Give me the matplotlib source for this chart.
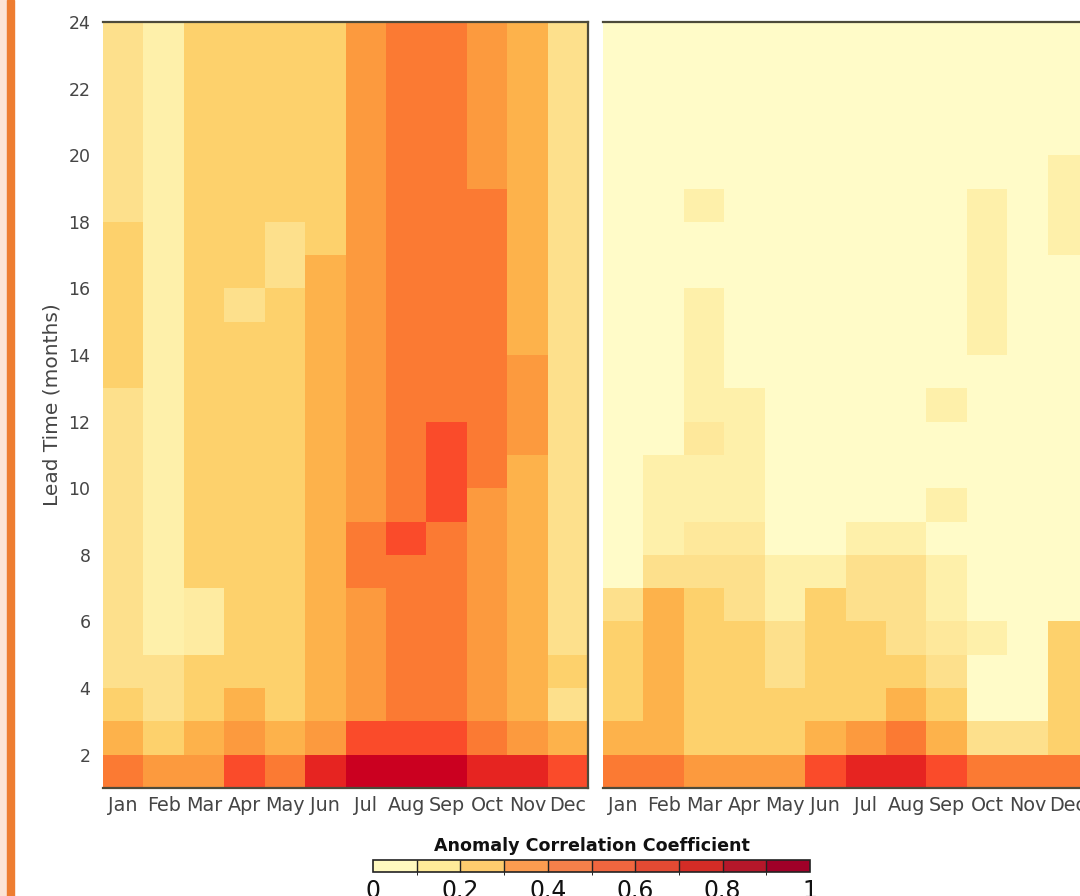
import numpy as np
import matplotlib
matplotlib.use("Agg")
import matplotlib.pyplot as plt
from matplotlib.colors import LinearSegmentedColormap, ListedColormap, BoundaryNorm
from matplotlib.patches import Rectangle
import matplotlib.cm as cm

months = ['Jan', 'Feb', 'Mar', 'Apr', 'May', 'Jun',
          'Jul', 'Aug', 'Sep', 'Oct', 'Nov', 'Dec']
leads = np.arange(1, 25)          # lead-time edges (months)

# ACC per lead (rows, lead 1 .. 23) and target month (columns)
acc_left = [
    [.65, .55, .55, .75, .65, .85, .95, .95, .95, .85, .85, .75],  # 1
    [.45, .35, .45, .55, .45, .55, .75, .75, .75, .65, .55, .45],  # 2
    [.35, .25, .35, .45, .35, .45, .55, .65, .65, .55, .45, .25],  # 3
    [.25, .25, .35, .35, .35, .45, .55, .65, .65, .55, .45, .35],  # 4
    [.25, .15, .18, .35, .35, .45, .55, .65, .65, .55, .45, .25],  # 5
    [.25, .15, .18, .35, .35, .45, .55, .65, .65, .55, .45, .25],  # 6
    [.25, .15, .35, .35, .35, .45, .65, .65, .65, .55, .45, .25],  # 7
    [.25, .15, .35, .35, .35, .45, .65, .75, .65, .55, .45, .25],  # 8
    [.25, .15, .35, .35, .35, .45, .55, .65, .75, .55, .45, .25],  # 9
    [.25, .15, .35, .35, .35, .45, .55, .65, .75, .65, .45, .25],  # 10
    [.25, .15, .35, .35, .35, .45, .55, .65, .75, .65, .55, .25],  # 11
    [.25, .15, .35, .35, .35, .45, .55, .65, .65, .65, .55, .25],  # 12
    [.35, .15, .35, .35, .35, .45, .55, .65, .65, .65, .55, .25],  # 13
    [.35, .15, .35, .35, .35, .45, .55, .65, .65, .65, .45, .25],  # 14
    [.35, .15, .35, .25, .35, .45, .55, .65, .65, .65, .45, .25],  # 15
    [.35, .15, .35, .35, .25, .45, .55, .65, .65, .65, .45, .25],  # 16
    [.35, .15, .35, .35, .25, .35, .55, .65, .65, .65, .45, .25],  # 17
    [.25, .15, .35, .35, .35, .35, .55, .65, .65, .65, .45, .25],  # 18
    [.25, .15, .35, .35, .35, .35, .55, .65, .65, .55, .45, .25],  # 19
    [.25, .15, .35, .35, .35, .35, .55, .65, .65, .55, .45, .25],  # 20
    [.25, .15, .35, .35, .35, .35, .55, .65, .65, .55, .45, .25],  # 21
    [.25, .15, .35, .35, .35, .35, .55, .65, .65, .55, .45, .25],  # 22
    [.25, .15, .35, .35, .35, .35, .55, .65, .65, .55, .45, .25],  # 23
]

acc_right = [
    [.65, .65, .55, .55, .55, .75, .85, .85, .75, .65, .65, .65],  # 1
    [.45, .45, .35, .35, .35, .45, .55, .65, .45, .25, .25, .35],  # 2
    [.35, .45, .35, .35, .35, .35, .35, .45, .35, .05, .05, .35],  # 3
    [.35, .45, .35, .35, .25, .35, .35, .35, .25, .05, .05, .35],  # 4
    [.35, .45, .35, .35, .25, .35, .35, .25, .20, .15, .05, .35],  # 5
    [.25, .45, .35, .25, .15, .35, .25, .25, .15, .05, .05, .05],  # 6
    [.05, .25, .25, .25, .15, .15, .25, .25, .15, .05, .05, .05],  # 7
    [.05, .15, .20, .20, .05, .05, .15, .15, .05, .05, .05, .05],  # 8
    [.05, .15, .15, .15, .05, .05, .05, .05, .15, .05, .05, .05],  # 9
    [.05, .15, .15, .15, .05, .05, .05, .05, .05, .05, .05, .05],  # 10
    [.05, .05, .20, .15, .05, .05, .05, .05, .05, .05, .05, .05],  # 11
    [.05, .05, .15, .15, .05, .05, .05, .05, .15, .05, .05, .05],  # 12
    [.05, .05, .15, .05, .05, .05, .05, .05, .05, .05, .05, .05],  # 13
    [.05, .05, .15, .05, .05, .05, .05, .05, .05, .15, .05, .05],  # 14
    [.05, .05, .15, .05, .05, .05, .05, .05, .05, .15, .05, .05],  # 15
    [.05, .05, .05, .05, .05, .05, .05, .05, .05, .15, .05, .05],  # 16
    [.05, .05, .05, .05, .05, .05, .05, .05, .05, .15, .05, .15],  # 17
    [.05, .05, .15, .05, .05, .05, .05, .05, .05, .15, .05, .15],  # 18
    [.05, .05, .05, .05, .05, .05, .05, .05, .05, .05, .05, .15],  # 19
    [.05, .05, .05, .05, .05, .05, .05, .05, .05, .05, .05, .05],  # 20
    [.05, .05, .05, .05, .05, .05, .05, .05, .05, .05, .05, .05],  # 21
    [.05, .05, .05, .05, .05, .05, .05, .05, .05, .05, .05, .05],  # 22
    [.05, .05, .05, .05, .05, .05, .05, .05, .05, .05, .05, .05],  # 23
]

cbar_ticks = [0, 0.2, 0.4, 0.6, 0.8, 1]
cbar_ticklabels = ['0', '0.2', '0.4', '0.6', '0.8', '1']

# colours
cell_colors = ['#FFFBC8', '#FEF0AA', '#FDE08C', '#FDD16C', '#FDB24B',
               '#FC9A3E', '#FB7A33', '#FB4C2A', '#E62421', '#CB0020']
cell_cmap = LinearSegmentedColormap.from_list(
    'acc', [(0, cell_colors[0])] +
    [(0.05 + 0.1 * i, c) for i, c in enumerate(cell_colors)] +
    [(1, cell_colors[-1])])
cbar_colors = ['#FFF9BF', '#FFEB99', '#FECC6E', '#FC9C50', '#F5804A',
               '#F0663F', '#E34A33', '#D42C26', '#B5172A', '#A00028']
spine_col = '#4d4a3a'
text_col = '#454545'

fig = plt.figure(figsize=(10.8, 8.96), dpi=100)
W, H = 1080, 896

# slide border on the left
fig.patches.append(Rectangle((0, 0), 7 / W, 1, transform=fig.transFigure,
                             color='#FCE4D6', zorder=0))
fig.patches.append(Rectangle((7 / W, 0), 7 / W, 1, transform=fig.transFigure,
                             color='#EE7D31', zorder=0))

x_edges = np.arange(0.5, 13.0, 1.0)
ax_l = fig.add_axes([103 / W, (H - 788) / H, 485 / W, 766 / H])
ax_r = fig.add_axes([603 / W, (H - 788) / H, 485 / W, 766 / H])

for ax, data in [(ax_l, acc_left), (ax_r, acc_right)]:
    ax.pcolormesh(x_edges, leads, np.array(data), cmap=cell_cmap,
                  vmin=0, vmax=1, shading='flat')
    ax.set_xlim(0.5, 12.5)
    ax.set_ylim(1, 24)
    ax.set_xticks(range(1, 13))
    ax.set_xticklabels(months)
    ax.tick_params(length=0, labelcolor=text_col)
    ax.tick_params(axis='x', pad=6, labelsize=13.8)
    ax.spines['left'].set_visible(False)
    for s in ['top', 'bottom', 'right']:
        ax.spines[s].set_color(spine_col)
        ax.spines[s].set_linewidth(1.6)

ax_l.set_yticks(range(2, 25, 2))
ax_l.tick_params(axis='y', pad=9, labelsize=12.5)
ax_l.set_ylabel('Lead Time (months)', fontsize=14.5, color=text_col)
ax_l.yaxis.set_label_coords(-0.085, 0.5)
ax_r.set_yticks([])

# colour bar
cax = fig.add_axes([373 / W, (H - 872) / H, 437 / W, 12 / H])
sm = cm.ScalarMappable(cmap=ListedColormap(cbar_colors),
                       norm=BoundaryNorm(np.linspace(0, 1, 11), 10))
cb = fig.colorbar(sm, cax=cax, orientation='horizontal', drawedges=True)
cb.set_ticks(cbar_ticks)
cb.set_ticklabels(cbar_ticklabels)
cb.ax.tick_params(length=0, labelsize=17, pad=5, labelcolor='#111111')
cb.outline.set_edgecolor('#222222')
cb.outline.set_linewidth(1.2)
cb.dividers.set_color('#222222')
cb.dividers.set_linewidth(1.0)
fig.text(591.5 / W, (H - 846) / H, 'Anomaly Correlation Coefficient',
         ha='center', va='center', fontsize=12.6, fontweight='bold',
         color='#111111')

fig.savefig('out.png', dpi=100)
